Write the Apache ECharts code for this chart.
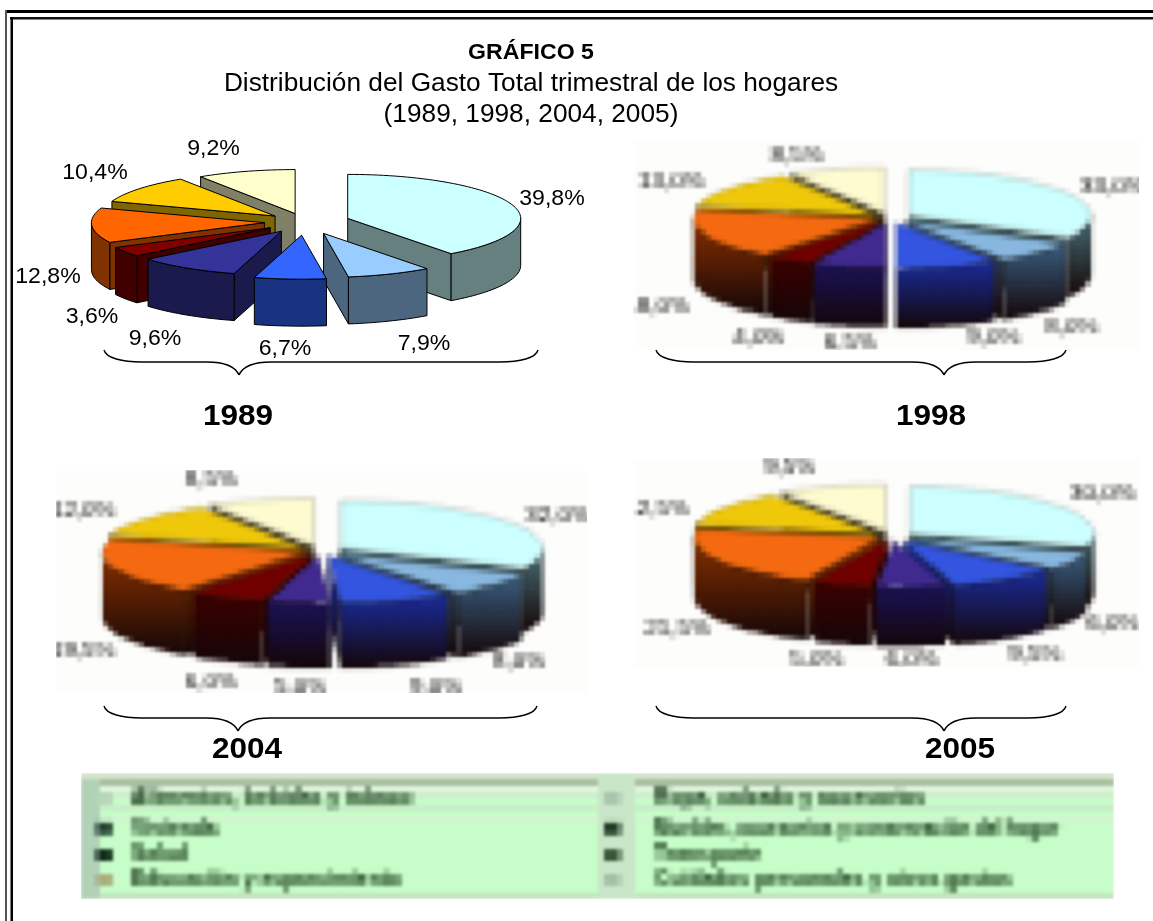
<!DOCTYPE html>
<html lang="es">
<head>
<meta charset="utf-8">
<title>Gráfico 5</title>
<script src="https://cdn.jsdelivr.net/npm/echarts@6/dist/echarts.min.js"></script>
<style>
html,body{margin:0;padding:0;background:#fff;width:1153px;height:921px;overflow:hidden}
#main{position:absolute;left:0;top:0;width:1153px;height:921px}
.lo{position:absolute;overflow:hidden;background:#fff}
.lo>div{transform-origin:0 0;position:absolute;left:0;top:0;filter:blur(.22px)}
.lo canvas{image-rendering:pixelated}
</style>
</head>
<body>
<div id="main"></div>
<script>
/* ---------- data ---------- */
const categories = ['Alimentos, bebidas y tabaco','Ropa, calzado y accesorios','Vivienda','Muebles, accesorios y conservación del hogar','Salud','Transporte','Educación y esparcimiento','Cuidados personales y otros gastos'];
const years = ['1989','1998','2004','2005'];
const values1989 = [39.8,7.9,6.7,9.6,3.6,12.8,10.4,9.2];
const values1998 = [33.0,8.0,9.0,6.5,4.0,18.0,13.0,8.5];
const values2004 = [32.0,8.0,9.0,5.0,6.0,19.5,12.0,8.5];
const values2005 = [30.0,6.0,9.5,6.0,5.0,21.5,12.5,9.5];
const sliceColors = ['#CCFFFF','#99CCFF','#3366FF','#333399','#800000','#FF6600','#FFCC00','#FFFFCC'];
const blurredTops = ['#CCFFFF','#88B8E0','#3355E0','#402A90','#700000','#F56A10','#EFC80A','#FFFBD0'];
const blurredSides = ['#4A7078','#3A5E80','#1A2C9C','#1A1258','#3C0000','#8A3000','#8A6400','#6E6A40'];
const titleLines = ['GRÁFICO 5','Distribución del Gasto Total trimestral de los hogares','(1989, 1998, 2004, 2005)'];
const legendLeft = [categories[0],categories[2],categories[4],categories[6]];
const legendRight = [categories[1],categories[3],categories[5],categories[7]];

/* ---------- layout ---------- */
const FONT = '"Liberation Sans", Arial, sans-serif';
const STRETCH = 1.05;
const explode1989 = [.26,.28,.3,.25,.24,.235,.22,.2];
const explodeLow = [.12,.12,.12,.1,.08,.08,.1,.12];
const pies = [
 {values:values1989,cx:305,cy:222,rx:173,ry:44,depth:47,explode:explode1989,
  labels:[[247,-23],[119,122],[-20,127],[-150,117],[-213,95],[-257,55],[-210,-49],[-91.5,-73]]},
 {values:values1998,cx:890,cy:218,rx:182,ry:45,depth:60,explode:explodeLow,box:[633,141,506,209],scale:5.2,
  labels:[[223,-33],[182,109],[104,122],[-39,125],[-131,120],[-233,87],[-219,-35],[-93,-63]]},
 {values:values2004,cx:320,cy:551,rx:202,ry:47,depth:65,explode:explodeLow,box:[56,470,531,223],scale:5.2,
  labels:[[238,-36],[199,112],[116,136],[-19,136],[-109,132],[-237,99],[-237,-38],[-109,-71]]},
 {values:values2005,cx:892,cy:536,rx:184,ry:46,depth:60,explode:explodeLow,box:[633,458,506,209],scale:5.2,
  labels:[[211,-44],[221,86],[143,117],[20,126],[-75,122],[-214,91],[-235,-28],[-102,-69]]}
];
const braces = [[104,538,239,350],[656,1066,944,350],[104,537,238,706],[656,1066,944,706]];
const yearPos = [[238,417],[931,417],[247,750],[960,750]];

/* ---------- helpers ---------- */
function halve(hex){
  const n=parseInt(hex.slice(1),16);
  const c=[(n>>16)&255,(n>>8)&255,n&255].map(v=>Math.round(v/2));
  return 'rgb('+c.join(',')+')';
}
const rad=d=>d*Math.PI/180;
function pieSeries(p,ox,oy,s,lw){
  const total=p.values.reduce((a,b)=>a+b,0);
  const low=s>1;
  let acc=0;
  const spans=p.values.map(v=>{const a=acc/total*360;acc+=v;return [a,acc/total*360];});
  const mid=spans.map(q=>(q[0]+q[1])/2);
  const order=p.values.map((_,i)=>i).sort((a,b)=>Math.cos(rad(mid[b]))-Math.cos(rad(mid[a])));
  const pt=(apex,deg,dz)=>[(apex[0]+p.rx*Math.sin(rad(deg))-ox)/s,(apex[1]-p.ry*Math.cos(rad(deg))+dz-oy)/s];
  const lift=(q,dz)=>[(q[0]-ox)/s,(q[1]+dz-oy)/s];
  const arc=(apex,a,b,dz)=>{const r=[];const n=Math.max(2,Math.ceil((b-a)/2));
    for(let j=0;j<=n;j++)r.push(pt(apex,a+(b-a)*j/n,dz));return r;};
  return {
    type:'custom',coordinateSystem:'none',silent:true,animation:false,clip:false,
    data:order.map(i=>[p.values[i],i]),
    renderItem(params,api){
      const v=api.value(0), i=api.value(1);
      const [a,b]=spans[i], m=mid[i], k=p.explode[i];
      const apex=[p.cx+k*p.rx*Math.sin(rad(m)),p.cy-k*p.ry*Math.cos(rad(m))];
      const topCol=low?blurredTops[i]:sliceColors[i];
      const sideBase=low?blurredSides[i]:halve(sliceColors[i]);
      const side=low?{type:'linear',x:0,y:0,x2:0,y2:1,colorStops:[{offset:0,color:sideBase},{offset:1,color:'#140608'}]}:sideBase;
      const st={stroke:low?'#201810':'#000',lineWidth:lw,lineJoin:'round'};
      const poly=(pts,fill)=>({type:'polygon',shape:{points:pts},style:Object.assign({fill},st)});
      const face=(deg)=>poly([lift(apex,0),pt(apex,deg,0),pt(apex,deg,p.depth),lift(apex,p.depth)],side);
      const kids=[];
      if(Math.sin(rad(a))<-1e-6) kids.push(face(a));
      if(Math.sin(rad(b))>1e-6) kids.push(face(b));
      const wa=Math.max(a,90), wb=Math.min(b,270);
      if(wb>wa) kids.push(poly(arc(apex,wa,wb,0).concat(arc(apex,wa,wb,p.depth).reverse()),side));
      kids.push(poly([lift(apex,0)].concat(arc(apex,a,b,0)),topCol));
      const l=p.labels[i];
      kids.push({type:'text',x:(p.cx+l[0]-ox)/s,y:(p.cy+l[1]-oy)/s,scaleX:STRETCH,z2:50,
        style:{text:v.toFixed(1).replace('.',',')+'%',font:(22/s)+'px '+FONT,fill:'#000',textAlign:'center',textVerticalAlign:'middle'}});
      return {type:'group',children:kids};
    }
  };
}
function lowChart(x,y,w,h,s,bg,option){
  const outer=document.createElement('div');outer.className='lo';
  outer.style.cssText+=`left:${x}px;top:${y}px;width:${w}px;height:${h}px`;
  const inner=document.createElement('div');
  const iw=Math.ceil(w/s), ih=Math.ceil(h/s);
  inner.style.cssText+=`width:${iw}px;height:${ih}px;transform:scale(${s})`;
  outer.appendChild(inner);document.body.appendChild(outer);
  const c=echarts.init(inner,null,{width:iw,height:ih,devicePixelRatio:1,renderer:'canvas'});
  option.backgroundColor=bg;option.animation=false;
  c.setOption(option);
  return c;
}
function braceEls(b){
  const [x0,x1,tip,y]=b, mid=y+12, end=y+25;
  const stroke={stroke:'#000',lineWidth:1.4,fill:'none'};
  const bz=(a,c,d,e)=>({type:'bezierCurve',silent:true,shape:{x1:a[0],y1:a[1],cpx1:c[0],cpy1:c[1],cpx2:d[0],cpy2:d[1],x2:e[0],y2:e[1]},style:stroke});
  const ln=(a,e)=>({type:'line',silent:true,shape:{x1:a[0],y1:a[1],x2:e[0],y2:e[1]},style:stroke});
  return [
    bz([x0,y],[x0+2,y+8],[x0+18,mid],[x0+38,mid]),
    ln([x0+38,mid],[tip-32,mid]),
    bz([tip-32,mid],[tip-16,mid],[tip-4,y+16],[tip,end]),
    bz([tip,end],[tip+4,y+16],[tip+16,mid],[tip+32,mid]),
    ln([tip+32,mid],[x1-38,mid]),
    bz([x1-38,mid],[x1-18,mid],[x1-2,y+8],[x1,y])
  ];
}
const txt=(t,x,y,size,bold)=>({type:'text',silent:true,x,y,scaleX:STRETCH,
  style:{text:t,font:(bold?'bold ':'')+size+'px '+FONT,fill:'#000',textAlign:'center',textVerticalAlign:'middle'}});
const rect=(x,y,w,h,f)=>({type:'rect',silent:true,shape:{x,y,width:w,height:h},style:{fill:f}});

/* ---------- main chart: frame, titles, braces, years, crisp pie ---------- */
const main=echarts.init(document.getElementById('main'),null,{width:1153,height:921,devicePixelRatio:1});
main.setOption({
  animation:false,backgroundColor:'#fff',
  series:[pieSeries(pies[0],0,0,1,1)],
  graphic:{elements:[
    rect(5,10,1148,3,'#000'),rect(10,17,1143,2.5,'#111'),
    rect(5,10,2,911,'#555'),rect(10.5,17,2.5,904,'#000'),
    txt(titleLines[0],531,53,22,true),
    txt(titleLines[1],531,84,25,false),
    txt(titleLines[2],531,115,25,false),
    ...years.map((y,i)=>txt(y,yearPos[i][0],yearPos[i][1],30,true)),
    ...braces.flatMap(braceEls)
  ]}
});

/* ---------- low resolution pies ---------- */
pies.slice(1).forEach(p=>{
  const [x,y,w,h]=p.box;
  lowChart(x,y,w,h,p.scale,'#fdfdfb',{series:[pieSeries(p,x,y,p.scale,0.12)]});
});

/* ---------- low resolution legend ---------- */
const LS=6.3, LX=81, LY=773, LW=1033, LH=126;
const legendSwatches=[['#b6d4b8','#1f3d2c','#041f10','#a9a878'],['#a8c4ac','#1f3a24','#2f4f30','#a5bda5']];
const rowY=[798,829,855,880];
const colX=[[96,132],[604,655]];
const legendOpt={
  series:[{type:'custom',coordinateSystem:'none',silent:true,animation:false,
    data:[[0,0],[0,1],[0,2],[0,3],[1,0],[1,1],[1,2],[1,3]],
    renderItem(params,api){
      const c=api.value(0), r=api.value(1);
      const names=c?legendRight:legendLeft;
      const py=v=>(v-LY)/LS, px=v=>(v-LX)/LS;
      const kids=[
        {type:'rect',shape:{x:px(colX[c][0]),y:py(rowY[r]-6),width:16/LS,height:12/LS},style:{fill:legendSwatches[c][r]}},
        {type:'text',x:px(colX[c][1]),y:py(rowY[r]),
         style:{text:names[r],font:'bold '+(c&&r===1?2.9:3.3)+'px '+FONT,fill:'#082808',textAlign:'left',textVerticalAlign:'middle'}}
      ];
      return {type:'group',children:kids};
    }
  }],
  graphic:{elements:[
    rect(0,0,LW/LS,1,'#d3e4cb'),
    rect(0,1,LW/LS,1,'#a9bfa0'),
    rect(0,2,LW/LS,1,'#dff6dd'),
    rect(0,3,LW/LS,1,'#cdeecb'),
    rect(0,5,LW/LS,1,'#c8eec8'),
    rect(0,7,LW/LS,1,'#d0f5cf'),
    rect(0,19,LW/LS,1,'#c2e6c0'),
    rect(0,1,3,19,'#b2d2b8'),
    rect(82,0,6,20,'#c9e6c8')
  ]}
};
lowChart(LX,LY,LW,LH,LS,'#c6fdc8',legendOpt);
</script>
</body>
</html>
